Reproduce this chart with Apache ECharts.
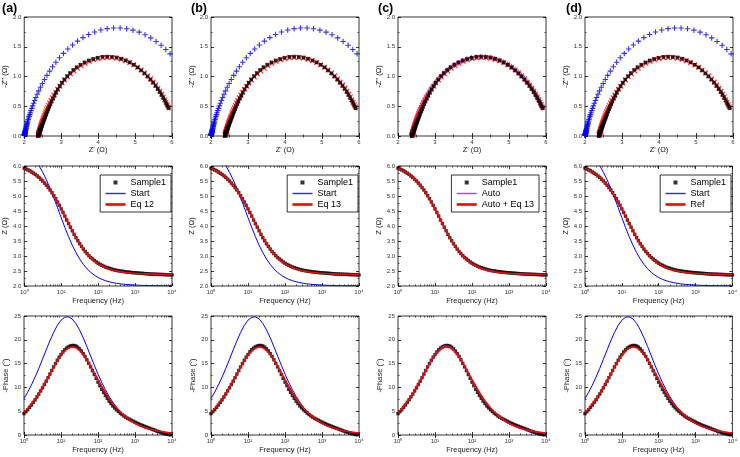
<!DOCTYPE html>
<html><head><meta charset="utf-8">
<script src="https://cdn.jsdelivr.net/npm/echarts@6/dist/echarts.min.js"></script>
<style>html,body{margin:0;padding:0;background:#fff}#c{width:740px;height:457px}</style>
</head><body><div id="c"></div>
<script>
// ---------- data ----------
// measured points: 20 per decade
const freq = [1,1.122,1.259,1.413,1.585,1.778,1.995,2.239,2.512,2.818,
  3.162,3.548,3.981,4.467,5.012,5.623,6.31,7.079,7.943,8.913,
  10,11.22,12.59,14.13,15.85,17.78,19.95,22.39,25.12,28.18,
  31.62,35.48,39.81,44.67,50.12,56.23,63.1,70.79,79.43,89.13,
  100,112.2,125.9,141.3,158.5,177.8,199.5,223.9,251.2,281.8,
  316.2,354.8,398.1,446.7,501.2,562.3,631,707.9,794.3,891.3,
  1000,1122,1259,1413,1585,1778,1995,2239,2512,2818,
  3162,3548,3981,4467,5012,5623,6310,7079,7943,8913,
  10000];

const sampleMag = [5.93,5.90,5.87,5.84,5.80,5.76,5.72,5.67,5.62,5.56,
  5.50,5.43,5.36,5.28,5.20,5.11,5.01,4.91,4.80,4.69,
  4.57,4.45,4.33,4.20,4.08,3.96,3.84,3.72,3.61,3.51,
  3.41,3.32,3.23,3.15,3.08,3.01,2.95,2.90,2.85,2.80,
  2.76,2.72,2.69,2.66,2.63,2.61,2.59,2.57,2.55,2.535,
  2.52,2.51,2.50,2.49,2.48,2.472,2.465,2.457,2.45,2.445,
  2.44,2.435,2.43,2.425,2.42,2.415,2.41,2.405,2.40,2.398,
  2.395,2.392,2.39,2.387,2.385,2.382,2.38,2.377,2.375,2.372,
  2.37];
const samplePhase = [4.5,4.9,5.3,5.8,6.3,6.85,7.4,8.0,8.6,9.25,
  9.9,10.6,11.3,12.05,12.8,13.55,14.3,15.0,15.7,16.35,
  16.9,17.45,17.9,18.25,18.5,18.7,18.8,18.8,18.7,18.45,
  18.1,17.65,17.1,16.5,15.8,15.05,14.3,13.5,12.7,11.9,
  11.1,10.35,9.6,8.95,8.3,7.7,7.1,6.6,6.1,5.7,
  5.3,4.95,4.6,4.3,4.0,3.75,3.5,3.3,3.1,2.9,
  2.7,2.5,2.35,2.15,2.0,1.85,1.7,1.55,1.4,1.25,
  1.1,0.95,0.8,0.68,0.55,0.42,0.3,0.21,0.12,0.03,
  -0.05];
const sampleRe = [5.912,5.878,5.845,5.810,5.765,5.719,5.672,5.615,5.557,5.488,
  5.418,5.337,5.256,5.164,5.071,4.968,4.855,4.743,4.621,4.500,
  4.373,4.245,4.120,3.989,3.869,3.751,3.635,3.522,3.419,3.330,
  3.241,3.164,3.087,3.020,2.964,2.907,2.859,2.820,2.780,2.740,
  2.708,2.676,2.652,2.628,2.603,2.586,2.570,2.553,2.536,2.522,
  2.509,2.501,2.492,2.483,2.474,2.467,2.460,2.453,2.446,2.442,
  2.437,2.433,2.428,2.423,2.419,2.414,2.409,2.404,2.399,2.397,
  2.395,2.392,2.390,2.387,2.385,2.382,2.380,2.377,2.375,2.372,
  2.370];
const sampleIm = [0.465,0.504,0.542,0.590,0.636,0.687,0.737,0.789,0.840,0.894,
  0.946,0.999,1.050,1.102,1.152,1.197,1.238,1.271,1.299,1.320,
  1.329,1.334,1.331,1.315,1.295,1.270,1.238,1.199,1.157,1.111,
  1.059,1.007,0.950,0.895,0.839,0.782,0.729,0.677,0.627,0.577,
  0.531,0.489,0.449,0.414,0.380,0.350,0.320,0.295,0.271,0.252,
  0.233,0.217,0.201,0.187,0.173,0.162,0.151,0.141,0.133,0.124,
  0.115,0.106,0.100,0.091,0.085,0.078,0.072,0.065,0.059,0.052,
  0.046,0.040,0.033,0.028,0.023,0.017,0.013,0.009,0.005,0.001,
  -0.002];

const startRe = [6.515,6.457,6.392,6.320,6.241,6.153,6.055,5.948,5.832,5.706,
  5.570,5.424,5.271,5.110,4.943,4.771,4.596,4.420,4.245,4.073,
  3.905,3.744,3.590,3.443,3.307,3.180,3.062,2.954,2.856,2.767,
  2.687,2.614,2.549,2.491,2.439,2.392,2.351,2.314,2.281,2.252,
  2.226,2.202,2.182,2.163,2.147,2.132,2.119,2.107,2.097,2.087,
  2.079,2.071,2.065,2.059,2.053,2.048,2.044,2.040,2.036,2.033,
  2.030,2.027,2.024,2.022,2.020,2.018,2.017,2.015,2.014,2.013,
  2.012,2.010,2.010,2.009,2.008,2.007,2.007,2.006,2.005,2.005,
  2.005];
const startIm = [0.876,0.943,1.012,1.084,1.158,1.232,1.307,1.381,1.454,1.524,
  1.589,1.649,1.701,1.745,1.779,1.802,1.815,1.815,1.804,1.782,
  1.748,1.705,1.654,1.595,1.530,1.461,1.388,1.314,1.239,1.164,
  1.091,1.019,0.949,0.882,0.819,0.758,0.701,0.647,0.597,0.550,
  0.506,0.465,0.427,0.392,0.360,0.330,0.302,0.277,0.253,0.232,
  0.212,0.194,0.177,0.162,0.148,0.135,0.124,0.113,0.103,0.094,
  0.086,0.078,0.072,0.065,0.060,0.054,0.050,0.045,0.041,0.038,
  0.035,0.031,0.029,0.026,0.024,0.022,0.020,0.018,0.017,0.015,
  0.014];

const fitRe = [5.900,5.872,5.840,5.804,5.764,5.720,5.671,5.617,5.557,5.492,
  5.420,5.342,5.257,5.166,5.068,4.964,4.854,4.739,4.621,4.498,
  4.374,4.248,4.123,3.999,3.878,3.760,3.647,3.539,3.438,3.342,
  3.253,3.170,3.095,3.025,2.962,2.904,2.852,2.804,2.762,2.723,
  2.689,2.658,2.631,2.606,2.583,2.563,2.545,2.529,2.515,2.502,
  2.490,2.480,2.471,2.462,2.454,2.448,2.441,2.436,2.431,2.426,
  2.422,2.418,2.415,2.412,2.409,2.406,2.404,2.402,2.400,2.398,
  2.397,2.395,2.394,2.393,2.392,2.391,2.390,2.389,2.388,2.387,
  2.387];
const fitIm = [0.488,0.527,0.568,0.611,0.657,0.704,0.753,0.803,0.855,0.907,
  0.960,1.011,1.062,1.110,1.156,1.197,1.234,1.265,1.290,1.308,
  1.318,1.320,1.315,1.302,1.282,1.255,1.222,1.183,1.140,1.094,
  1.045,0.994,0.942,0.889,0.837,0.786,0.736,0.687,0.641,0.596,
  0.554,0.513,0.475,0.440,0.406,0.375,0.346,0.319,0.293,0.270,
  0.248,0.228,0.209,0.192,0.177,0.162,0.149,0.136,0.125,0.115,
  0.105,0.096,0.088,0.081,0.074,0.068,0.062,0.057,0.052,0.048,
  0.044,0.040,0.036,0.033,0.031,0.028,0.026,0.023,0.021,0.020,
  0.018];

const autoRe = [5.896,5.867,5.835,5.799,5.760,5.717,5.668,5.615,5.556,5.490,
  5.418,5.340,5.255,5.163,5.064,4.959,4.848,4.731,4.611,4.487,
  4.362,4.235,4.109,3.984,3.862,3.744,3.630,3.523,3.422,3.326,
  3.238,3.155,3.079,3.009,2.947,2.889,2.838,2.790,2.748,2.710,
  2.677,2.646,2.619,2.594,2.572,2.552,2.534,2.518,2.504,2.492,
  2.480,2.470,2.461,2.453,2.445,2.439,2.433,2.427,2.422,2.417,
  2.413,2.410,2.407,2.404,2.401,2.398,2.396,2.394,2.393,2.391,
  2.390,2.388,2.387,2.386,2.385,2.384,2.383,2.382,2.382,2.381,
  2.381];
const autoIm = [0.480,0.520,0.562,0.606,0.653,0.701,0.751,0.803,0.856,0.909,
  0.963,1.015,1.067,1.116,1.163,1.205,1.243,1.274,1.300,1.318,
  1.329,1.332,1.327,1.314,1.294,1.266,1.233,1.194,1.151,1.104,
  1.054,1.002,0.949,0.895,0.842,0.789,0.738,0.688,0.641,0.595,
  0.552,0.511,0.472,0.436,0.402,0.370,0.341,0.314,0.288,0.265,
  0.243,0.223,0.205,0.187,0.171,0.157,0.144,0.131,0.120,0.110,
  0.100,0.092,0.084,0.077,0.070,0.064,0.058,0.053,0.048,0.043,
  0.039,0.035,0.032,0.029,0.026,0.023,0.021,0.019,0.017,0.016,
  0.014];

// model curves (lines): 10 per decade
const freqLine = [1,1.259,1.585,1.995,2.512,3.162,3.981,5.012,6.31,7.943,10,12.59,15.85,19.95,25.12,31.62,39.81,50.12,63.1,79.43,100,125.9,158.5,199.5,251.2,316.2,398.1,501.2,631,794.3,1000,1259,1585,1995,2512,3162,3981,5012,6310,7943,10000];
const startMag = [6.573,6.472,6.347,6.195,6.010,5.792,5.539,5.253,4.941,4.613,4.279,3.952,3.644,3.362,3.114,2.900,2.720,2.572,2.453,2.358,2.282,2.223,2.177,2.141,2.112,2.090,2.072,2.058,2.047,2.039,2.031,2.026,2.021,2.017,2.014,2.012,2.010,2.008,2.007,2.006,2.005];
const startPhase = [7.66,9.00,10.51,12.18,14.00,15.92,17.88,19.80,21.55,23.03,24.12,24.74,24.83,24.39,23.45,22.10,20.43,18.56,16.61,14.66,12.80,11.08,9.51,8.11,6.88,5.82,4.90,4.12,3.46,2.90,2.42,2.03,1.69,1.41,1.18,0.98,0.82,0.68,0.57,0.47,0.39];
const fitMag = [5.921,5.867,5.801,5.721,5.623,5.504,5.363,5.198,5.009,4.797,4.568,4.328,4.084,3.846,3.622,3.417,3.235,3.078,2.945,2.835,2.746,2.673,2.615,2.569,2.532,2.503,2.479,2.461,2.446,2.434,2.424,2.416,2.410,2.405,2.400,2.397,2.394,2.392,2.390,2.388,2.387];
const fitPhase = [4.73,5.55,6.50,7.56,8.75,10.04,11.42,12.84,14.26,15.59,16.77,17.69,18.29,18.52,18.35,17.80,16.92,15.78,14.47,13.06,11.63,10.24,8.93,7.73,6.65,5.69,4.84,4.11,3.48,2.94,2.48,2.09,1.76,1.48,1.24,1.04,0.87,0.73,0.61,0.51,0.43];
const autoMag = [5.915,5.862,5.797,5.718,5.621,5.503,5.362,5.196,5.005,4.791,4.560,4.318,4.073,3.834,3.610,3.405,3.222,3.065,2.932,2.822,2.733,2.661,2.603,2.557,2.521,2.492,2.469,2.451,2.437,2.425,2.415,2.408,2.402,2.397,2.393,2.390,2.387,2.385,2.383,2.382,2.381];
const autoPhase = [4.65,5.50,6.47,7.55,8.76,10.08,11.48,12.93,14.38,15.74,16.95,17.90,18.52,18.76,18.60,18.03,17.12,15.94,14.58,13.12,11.65,10.22,8.88,7.66,6.57,5.60,4.75,4.01,3.38,2.84,2.38,1.99,1.66,1.38,1.14,0.94,0.77,0.63,0.51,0.41,0.33];

// tick values / labels
const nyqXTicks = [2,3,4,5,6];
const nyqYTicks = [0,0.5,1,1.5,2];
const magTicks = [2,2.5,3,3.5,4,4.5,5,5.5,6];
const phaseTicks = [0,5,10,15,20,25];
const freqTicks = [1,10,100,1000,10000];
const freqTickLabels = ['10\u2070','10\u00b9','10\u00b2','10\u00b3','10\u2074'];
const freqMinorTicks = [2,3,4,5,6,7,8,9,20,30,40,50,60,70,80,90,200,300,400,500,600,700,800,900,2000,3000,4000,5000,6000,7000,8000,9000];

const panelTags = ['(a)','(b)','(c)','(d)'];
const refNames = ['Start','Start','Auto','Start'];
const fitNames = ['Eq 12','Eq 13','Auto + Eq 13','Ref'];

// ---------- layout / style ----------
const FONT = '"Liberation Sans", Arial, Helvetica, sans-serif';
const cols = [24, 211, 398, 585];
const colW = 148;
const rows = [{top:17,h:119},{top:166,h:120},{top:316,h:119}];
const tagLeft = [2, 191, 378, 566];
const legendRight = [569, 382, 201, 9];
const BLUE = '#0000ff', RED = '#ff0000', PURPLE = '#8a2be2';
const PLUS = 'path://M4,0h2v4h4v2h-4v4h-2v-4h-4v-2h4z';
const SQUARE_ICON = 'path://M0,0h0.05v0.05h-0.05z M8,2h4v4h-4z M19.95,7.95h0.05v0.05h-0.05z';

const grid = [], xAxis = [], yAxis = [], series = [], legend = [], title = [];
const tickStyle = {color:'#000', width:0.8};
const labelBase = {fontSize:6, color:'#333', fontFamily:FONT, margin:3};
const nameStyle = {fontSize:7.5, color:'#222', fontFamily:FONT};

function valAxis(gi, pos, ticks, labeled, fmt, name, nameGap) {
  const a = {
    type:'value', gridIndex:gi, position:pos,
    min:ticks[0], max:ticks[ticks.length-1], interval:ticks[1]-ticks[0],
    axisLine:{show:false}, splitLine:{show:false},
    axisTick:{show:true, inside:true, length:3, lineStyle:tickStyle},
    minorTick:{show:true, splitNumber:2, length:1.6, lineStyle:{color:'#000', width:0.6}},
    axisLabel: labeled ? Object.assign({show:true, formatter:fmt}, labelBase) : {show:false}
  };
  if (name) {
    a.name = name; a.nameLocation = 'middle'; a.nameGap = nameGap; a.nameTextStyle = nameStyle;
  }
  return a;
}
function logAxis(gi, pos, labeled, name, nameGap) {
  const a = {
    type:'log', logBase:10, gridIndex:gi, position:pos,
    min:freqTicks[0], max:freqTicks[freqTicks.length-1],
    axisLine:{show:false}, splitLine:{show:false},
    axisTick:{show:true, inside:true, length:3, lineStyle:tickStyle},
    axisLabel: labeled ? Object.assign({show:true,
      formatter: v => freqTickLabels[freqTicks.indexOf(Math.round(v))] || ''}, labelBase) : {show:false}
  };
  if (name) {
    a.name = name; a.nameLocation = 'middle'; a.nameGap = nameGap; a.nameTextStyle = nameStyle;
  }
  return a;
}
function logMinorAxis(gi, pos) {
  return {
    type:'log', logBase:10, gridIndex:gi, position:pos,
    min:freqTicks[0], max:freqTicks[freqTicks.length-1],
    axisLine:{show:false}, splitLine:{show:false},
    axisTick:{show:true, inside:true, length:1.6, lineStyle:{color:'#000', width:0.6}, customValues:freqMinorTicks},
    axisLabel:{show:false}
  };
}
function addGrid(left, top, h) {
  grid.push({left:left, top:top, width:colW, height:h, show:true, borderColor:'#000', borderWidth:0.8, backgroundColor:'#fff'});
  return grid.length - 1;
}
const pairs = (xs, ys) => xs.map((x, i) => [x, ys[i]]);
function lineSeries(name, xb, yl, color, width, xs, ys) {
  return {type:'line', name:name, xAxisIndex:xb, yAxisIndex:yl, clip:true,
    symbol:'none', lineStyle:{color:color, width:width},
    itemStyle:{color:color}, data:pairs(xs, ys), silent:true};
}

for (let p = 0; p < 4; p++) {
  const isAuto = p === 2;
  const rMag = isAuto ? autoMag : startMag, rPh = isAuto ? autoPhase : startPhase;
  const rRe = isAuto ? autoRe : startRe, rIm = isAuto ? autoIm : startIm;
  const rCol = isAuto ? PURPLE : BLUE;
  const left = cols[p];

  title.push({text:panelTags[p], left:tagLeft[p], top:2, padding:0,
    textStyle:{fontSize:12.5, fontWeight:'bold', fontFamily:FONT, color:'#000'}});

  // ---- Nyquist ----
  let g = addGrid(left, rows[0].top, rows[0].h);
  let xb = xAxis.length;
  xAxis.push(valAxis(g, 'bottom', nyqXTicks, true, v => String(v), "Z' (\u03a9)", 10));
  xAxis.push(valAxis(g, 'top', nyqXTicks, false));
  let yl = yAxis.length;
  yAxis.push(valAxis(g, 'left', nyqYTicks, true, v => v.toFixed(1), "-Z'' (\u03a9)", 12));
  yAxis.push(valAxis(g, 'right', nyqYTicks, false));
  series.push({type:'scatter', name:refNames[p] + ' \u2009', xAxisIndex:xb, yAxisIndex:yl, clip:true,
    symbol:PLUS, symbolSize:5.5, itemStyle:{color:rCol}, data:pairs(rRe, rIm), silent:true});
  series.push({type:'scatter', name:fitNames[p] + ' \u2009', xAxisIndex:xb, yAxisIndex:yl, clip:true,
    symbol:PLUS, symbolRotate:45, symbolSize:6.5, itemStyle:{color:RED}, data:pairs(fitRe, fitIm), silent:true});
  series.push({type:'scatter', name:'Sample1 \u2009', xAxisIndex:xb, yAxisIndex:yl, clip:true,
    symbol:'rect', symbolSize:3.6, itemStyle:{color:'#000'}, data:pairs(sampleRe, sampleIm), silent:true});

  // ---- |Z| vs frequency ----
  g = addGrid(left, rows[1].top, rows[1].h);
  xb = xAxis.length;
  xAxis.push(logAxis(g, 'bottom', true, 'Frequency (Hz)', 11));
  xAxis.push(logAxis(g, 'top', false));
  xAxis.push(logMinorAxis(g, 'bottom'));
  xAxis.push(logMinorAxis(g, 'top'));
  yl = yAxis.length;
  yAxis.push(valAxis(g, 'left', magTicks, true, v => v.toFixed(1), 'Z (\u03a9)', 12));
  yAxis.push(valAxis(g, 'right', magTicks, false));
  series.push({type:'scatter', name:'Sample1', xAxisIndex:xb, yAxisIndex:yl, clip:true,
    symbol:'rect', symbolSize:3.4, itemStyle:{color:'#000'}, data:pairs(freq, sampleMag), silent:true});
  series.push(lineSeries(refNames[p], xb, yl, rCol, 1, freqLine, rMag));
  series.push(lineSeries(fitNames[p], xb, yl, RED, 1.6, freqLine, fitMag));

  legend.push({
    right:legendRight[p], top:175, orient:'vertical',
    data:[
      {name:'Sample1', icon:SQUARE_ICON, itemStyle:{color:'#000', borderWidth:0}},
      {name:refNames[p], itemStyle:{opacity:0}, lineStyle:{width:1.4, color:rCol, opacity:0.85}},
      {name:fitNames[p], itemStyle:{opacity:0}, lineStyle:{width:2.6, color:RED, opacity:1}}
    ],
    itemWidth:20, itemHeight:8, itemGap:2, padding:[3,5,3,4],
    borderColor:'#000', borderWidth:0.8, backgroundColor:'#fff', selectedMode:false,
    textStyle:{fontSize:9, color:'#000', fontFamily:FONT}
  });

  // ---- phase vs frequency ----
  g = addGrid(left, rows[2].top, rows[2].h);
  xb = xAxis.length;
  xAxis.push(logAxis(g, 'bottom', true, 'Frequency (Hz)', 11));
  xAxis.push(logAxis(g, 'top', false));
  xAxis.push(logMinorAxis(g, 'bottom'));
  xAxis.push(logMinorAxis(g, 'top'));
  yl = yAxis.length;
  yAxis.push(valAxis(g, 'left', phaseTicks, true, v => String(v), '-Phase (\u00b0)', 12));
  yAxis.push(valAxis(g, 'right', phaseTicks, false));
  series.push({type:'scatter', name:'Sample1', xAxisIndex:xb, yAxisIndex:yl, clip:true,
    symbol:'rect', symbolSize:3.4, itemStyle:{color:'#000'}, data:pairs(freq, samplePhase), silent:true});
  series.push(lineSeries(refNames[p], xb, yl, rCol, 1, freqLine, rPh));
  series.push(lineSeries(fitNames[p], xb, yl, RED, 1.6, freqLine, fitPhase));
}

const chart = echarts.init(document.getElementById('c'), null, {renderer:'canvas'});
chart.setOption({
  animation:false, backgroundColor:'#fff',
  textStyle:{fontFamily:FONT},
  title, grid, xAxis, yAxis, series, legend, tooltip:{show:false}
});
</script></body></html>
